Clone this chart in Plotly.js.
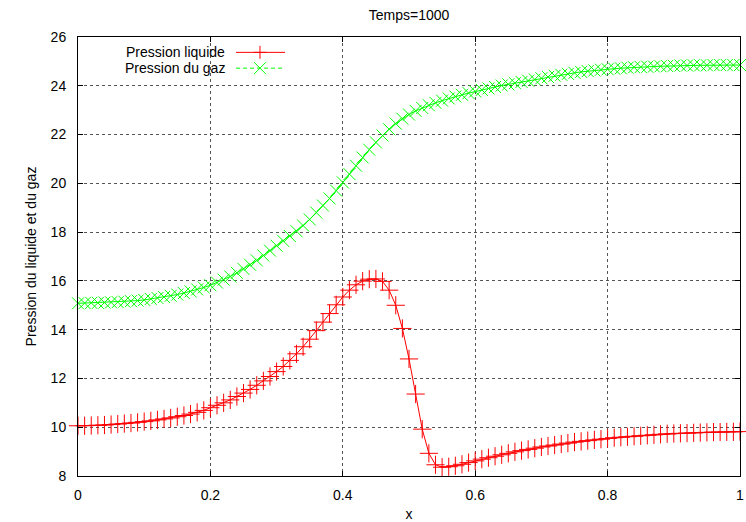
<!DOCTYPE html>
<html>
<head>
<meta charset="utf-8">
<script src="https://cdn.plot.ly/plotly-3.0.1.min.js"></script>
<style>html,body{margin:0;padding:0;background:#fff;}#chart{width:746px;height:522px;}</style>
</head>
<body>
<div id="chart"></div>
<script>
// x positions (uniform grid 0..1, step 0.01)
const xValues = [
0.00,0.01,0.02,0.03,0.04,0.05,0.06,0.07,0.08,0.09,
0.10,0.11,0.12,0.13,0.14,0.15,0.16,0.17,0.18,0.19,
0.20,0.21,0.22,0.23,0.24,0.25,0.26,0.27,0.28,0.29,
0.30,0.31,0.32,0.33,0.34,0.35,0.36,0.37,0.38,0.39,
0.40,0.41,0.42,0.43,0.44,0.45,0.46,0.47,0.48,0.49,
0.50,0.51,0.52,0.53,0.54,0.55,0.56,0.57,0.58,0.59,
0.60,0.61,0.62,0.63,0.64,0.65,0.66,0.67,0.68,0.69,
0.70,0.71,0.72,0.73,0.74,0.75,0.76,0.77,0.78,0.79,
0.80,0.81,0.82,0.83,0.84,0.85,0.86,0.87,0.88,0.89,
0.90,0.91,0.92,0.93,0.94,0.95,0.96,0.97,0.98,0.99,
1.00];

// Pression liquide
const pressionLiquide = [
10.06,10.06,10.07,10.08,10.09,10.11,10.13,10.15,10.17,10.20,
10.23,10.26,10.30,10.34,10.38,10.43,10.48,10.54,10.61,10.69,
10.80,10.90,11.00,11.12,11.26,11.40,11.55,11.72,11.90,12.08,
12.28,12.49,12.74,13.01,13.30,13.61,13.96,14.31,14.66,15.02,
15.34,15.62,15.84,15.99,16.07,16.08,15.98,15.62,15.00,14.05,
12.80,11.36,9.92,8.93,8.46,8.36,8.38,8.42,8.48,8.55,
8.62,8.69,8.75,8.81,8.87,8.93,8.99,9.04,9.09,9.14,
9.19,9.23,9.27,9.31,9.35,9.39,9.42,9.45,9.48,9.51,
9.54,9.57,9.59,9.61,9.63,9.65,9.67,9.69,9.71,9.73,
9.74,9.75,9.76,9.77,9.78,9.79,9.80,9.80,9.81,9.81,
9.82];

// Pression du gaz
const pressionGaz = [
15.08,15.09,15.10,15.10,15.11,15.12,15.13,15.15,15.17,15.19,
15.22,15.26,15.30,15.34,15.39,15.44,15.50,15.57,15.65,15.73,
15.82,15.93,16.05,16.18,16.33,16.49,16.66,16.84,17.04,17.24,
17.44,17.64,17.84,18.04,18.27,18.52,18.80,19.09,19.38,19.70,
20.04,20.38,20.72,21.06,21.38,21.68,21.96,22.22,22.45,22.65,
22.82,22.97,23.09,23.20,23.30,23.39,23.48,23.56,23.63,23.70,
23.77,23.83,23.89,23.95,24.01,24.06,24.11,24.16,24.21,24.26,
24.31,24.36,24.41,24.45,24.49,24.53,24.57,24.60,24.63,24.66,
24.68,24.70,24.72,24.74,24.76,24.77,24.78,24.79,24.80,24.81,
24.82,24.83,24.83,24.84,24.84,24.84,24.85,24.85,24.85,24.85,
24.85];

const seriesNames = ["Pression liquide", "Pression du gaz"];
const xTickVals = [0, 0.2, 0.4, 0.6, 0.8, 1];
const xTickText = ["0", "0.2", "0.4", "0.6", "0.8", "1"];
const yTickVals = [8, 10, 12, 14, 16, 18, 20, 22, 24, 26];
const yTickText = ["8", "10", "12", "14", "16", "18", "20", "22", "24", "26"];

const FONT = '"Liberation Sans", Arial, sans-serif';
const RED = '#ff0000';
const GREEN = '#00ff00';

const traces = [
  {
    x: xValues, y: pressionLiquide, name: seriesNames[0],
    type: 'scatter', mode: 'lines+markers', cliponaxis: false,
    line: {color: RED, width: 1},
    marker: {symbol: 'cross-thin-open', size: 13, color: RED, line: {color: RED, width: 1}},
    showlegend: false
  },
  {
    x: xValues, y: pressionGaz, name: seriesNames[1],
    type: 'scatter', mode: 'lines+markers', cliponaxis: false,
    line: {color: GREEN, width: 1},
    marker: {symbol: 'x-thin-open', size: 12, color: GREEN, line: {color: GREEN, width: 1}},
    showlegend: false
  }
];

// manual gnuplot-style key (text on left, sample on right)
const keyY = [0.965, 0.929];
const shapes = [
  {type: 'line', xref: 'paper', yref: 'paper', x0: 0.2387, x1: 0.3127, y0: keyY[0], y1: keyY[0], line: {color: RED, width: 1}},
  {type: 'line', xref: 'paper', yref: 'paper', x0: 0.2387, x1: 0.3127, y0: keyY[1], y1: keyY[1], line: {color: GREEN, width: 1, dash: '4px,3px'}},
  {type: 'path', xref: 'paper', yref: 'paper', xsizemode: 'pixel', ysizemode: 'pixel', xanchor: 0.2749, yanchor: keyY[0],
   path: 'M-6.5,0 L6.5,0 M0,-6.5 L0,6.5', line: {color: RED, width: 1}},
  {type: 'path', xref: 'paper', yref: 'paper', xsizemode: 'pixel', ysizemode: 'pixel', xanchor: 0.2749, yanchor: keyY[1],
   path: 'M-6,-6 L6,6 M-6,6 L6,-6', line: {color: GREEN, width: 1}}
];
const annotations = [
  {xref: 'paper', yref: 'paper', x: 0.2246, y: keyY[0], xanchor: 'right', yanchor: 'middle', showarrow: false,
   text: seriesNames[0], font: {family: FONT, size: 14, color: '#000'}},
  {xref: 'paper', yref: 'paper', x: 0.2246, y: keyY[1], xanchor: 'right', yanchor: 'middle', showarrow: false,
   text: seriesNames[1], font: {family: FONT, size: 14, color: '#000'}}
];

const axisCommon = {
  showline: true, linecolor: '#000', linewidth: 1, mirror: 'ticks',
  ticks: 'inside', ticklen: 5, tickcolor: '#000', tickwidth: 1,
  showgrid: true, gridcolor: '#555', griddash: 'dot', gridwidth: 1,
  zeroline: false, tickfont: {family: FONT, size: 14, color: '#000'},
  automargin: false, fixedrange: true
};

const layout = {
  width: 746, height: 522, autosize: false,
  paper_bgcolor: '#fff', plot_bgcolor: '#fff',
  margin: {l: 78, r: 6, t: 37, b: 46},
  font: {family: FONT, size: 14, color: '#000'},
  title: {text: 'Temps=1000', font: {family: FONT, size: 14, color: '#000'},
          xref: 'paper', x: 0.5, xanchor: 'center', yref: 'container', y: 0.971, yanchor: 'middle'},
  xaxis: Object.assign({}, axisCommon, {
    range: [0, 1], tickvals: xTickVals, ticktext: xTickText, ticklabelstandoff: 6,
    title: {text: 'x', font: {family: FONT, size: 14, color: '#000'}, standoff: 8}
  }),
  yaxis: Object.assign({}, axisCommon, {
    range: [8, 26], tickvals: yTickVals, ticktext: yTickText, ticklabelstandoff: 8,
    title: {text: 'Pression du liquide et du gaz', font: {family: FONT, size: 14, color: '#000'}, standoff: 10}
  }),
  shapes: shapes,
  annotations: annotations,
  showlegend: false
};

Plotly.newPlot('chart', traces, layout, {displayModeBar: false, staticPlot: true});
</script>
</body>
</html>
